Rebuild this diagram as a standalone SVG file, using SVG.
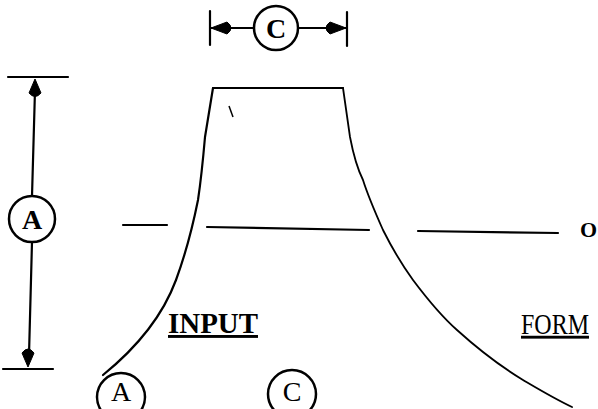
<svg xmlns="http://www.w3.org/2000/svg" width="598" height="409" viewBox="0 0 598 409">
<style>
.ln{stroke:#000;stroke-width:2.2;fill:none;stroke-linecap:round;stroke-linejoin:round}
.ah{fill:#000;stroke:#000;stroke-width:1}
.cir{stroke:#000;stroke-width:2.5;fill:#fff}
.t{font-family:"Liberation Serif","Times New Roman",serif;fill:#000}
.lbl{font-family:"Liberation Serif","Times New Roman",serif;fill:#000;font-size:28px;text-anchor:middle}
</style>
<rect width="598" height="409" fill="#fff"/>
<g id="profile">
<path class="ln" d="M213,88 L343,88"/>
<path class="ln" d="M213,88 L205,137 C203,160 201,180 198,200 C193,225 187,250 176,280 C163,315 140,345 103,375"/>
<path class="ln" d="M343,88 L350,137 C354,158 358,170 363,180 C368,196 375,212 383,230 C393,250 400,262 413,280 C428,300 440,315 457,330 C478,349 500,366 523,380 C540,390 555,399 572,407" style="stroke-width:1.8"/>
<path d="M229,106 L233,117" stroke="#000" stroke-width="1.5"/>
</g>
<g id="connectors">
<path class="ln" d="M123,225 L167,225"/>
<path class="ln" d="M207,227 L369,230"/>
<path class="ln" d="M418,231 L558,233"/>
<path class="ln" d="M210,11 L210,45"/>
<path class="ln" d="M347,12 L347,46"/>
<path class="ln" d="M211,28 L253,28"/>
<path class="ln" d="M299,28 L346,28"/>
<path class="ah" d="M211,28 L227,22 Q235,28 227,34 Z"/>
<path class="ah" d="M346,28 L330,22 Q322,28 330,34 Z"/>
<path class="ln" d="M8,77 L68,77"/>
<path class="ln" d="M3,369 L53,369"/>
<path class="ln" d="M35,90 L32,196"/>
<path class="ln" d="M32,242 L29,355"/>
<path class="ah" d="M35,79 L29,93 Q35,100 41,93 Z"/>
<path class="ah" d="M28,367 L22,353 Q28,345 34,353 Z"/>
</g>
<g id="dimC-top">
<circle class="cir" cx="276" cy="28" r="22"/>
<text class="lbl" x="276" y="38" font-weight="bold">C</text>
</g>
<g id="dimA-left">
<circle class="cir" cx="32" cy="219" r="23"/>
<text class="lbl" x="32" y="229" font-weight="bold">A</text>
</g>
<g id="labelA-bottom">
<circle class="cir" cx="121" cy="397" r="24"/>
<text class="lbl" x="121" y="401" font-size="25">A</text>
</g>
<g id="labelC-bottom">
<circle class="cir" cx="292" cy="394" r="24"/>
<text class="lbl" x="292" y="401" font-size="25">C</text>
</g>
<g id="input">
<text class="t" x="168" y="333" font-size="29" font-weight="bold" textLength="90" lengthAdjust="spacingAndGlyphs" text-decoration="underline">INPUT</text>
</g>
<g id="form">
<text class="t" x="521" y="278" font-size="24" transform="scale(1,1.2)" text-decoration="underline">FORM</text>
</g>
<g id="o-label">
<text class="t" x="580" y="237" font-size="22" font-weight="bold" font-family="Liberation Sans, Arial, sans-serif">O</text>
</g>
</svg>
